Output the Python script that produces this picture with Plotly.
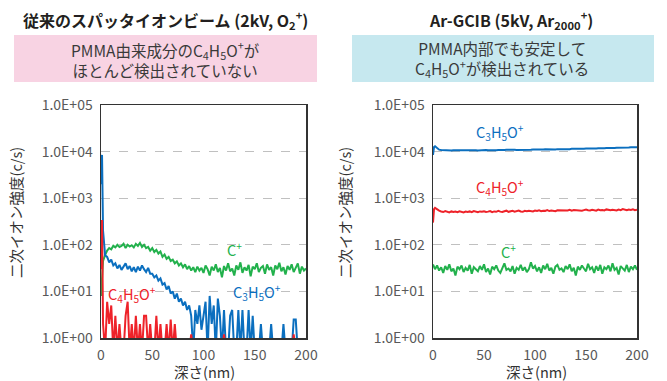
import plotly.graph_objects as go

# ---------------- data ----------------
depth = [0, 1] + list(range(2, 201, 2))  # nm

# Left panel: conventional sputter ion beam (2kV, O2+)
left_c = [8, 22,
          45, 60, 75, 85, 80, 95, 88, 100, 90, 95, 105, 85, 100, 92, 98, 88, 105, 95, 110, 90,
          100, 85, 90, 75, 85, 70, 78, 65, 72, 55, 62, 50, 55, 45, 48, 40, 44, 36, 40, 33,
          38, 30, 35, 28, 33, 26, 34, 28, 32, 25,
          36, 30, 22, 34, 28, 38, 26, 32, 20, 35, 28, 40, 27, 31, 22, 36, 29, 42, 25, 33,
          28, 37, 21, 34, 30, 40, 26, 32, 35, 24, 38, 29, 33, 22, 36, 30, 41, 27, 33, 23,
          35, 29, 38, 26, 32, 40, 24, 34, 28, 31]
left_c3h5o = [2000, 8500, 200,
              60, 55, 42, 48, 36, 40, 31, 37, 29, 34, 40, 30, 35, 27, 33, 26, 34, 28, 36, 30,
              26, 32, 24,
              24, 20, 22, 17, 19, 14, 15, 11, 13, 9, 10, 7, 9, 6, 7, 5, 6, 4, 5, 3,
              0.5, 4, 2, 5, 1.5, 3,
              6, 0.5, 8, 2, 5, 0.5, 7, 3, 0.5, 4, 0.5, 0.5, 3, 4, 0.5, 0.5, 4, 0.5, 4, 0.5,
              0.5, 4, 0.5, 3, 0.5, 0.5, 0.5, 2, 0.5, 0.5, 0.5, 0.5, 2, 0.5, 0.5, 0.5, 0.5,
              0.5, 2, 0.5, 0.5, 0.5, 0.5, 2.5, 2.5, 0.5, 0.5, 0.5, 0.5, 0.5]
left_c4h5o = [30, 340, 2,
              0.5, 6, 2, 5, 0.5, 3, 0.5, 2, 0.5, 0.5, 3, 6, 0.5, 2, 0.5, 3, 0.5, 2, 0.5, 3,
              3, 0.5, 2, 0.5, 0.5, 3, 0.5, 2, 0.5, 0.5, 2, 0.5, 2.5, 0.5, 2, 0.5,
              0.5, 0.5, 0.5, 0.5, 0.5, 0.5, 1.2, 0.5, 0.5, 0.5, 0.5, 0.5, 0.5, 0.5, 0.5, 0.5,
              0.5, 0.5, 0.5, 0.5, 0.5, 0.5, 1.2, 0.5, 0.5, 0.5, 0.5, 0.5, 0.5, 0.5, 0.5, 0.5,
              0.5, 0.5, 0.5, 0.5, 0.5, 0.5, 0.5, 0.5, 0.5, 0.5, 0.5, 0.5, 0.5, 0.5, 0.5, 0.5,
              0.5, 0.5, 0.5, 0.5, 0.5, 0.5, 0.5, 0.5, 1.2, 0.5, 0.5, 0.5, 0.5, 0.5, 0.5]

# Right panel: Ar-GCIB (5kV, Ar2000+)
right_c3h5o = [8500, 12500, 13000, 11800, 11000,
               10800, 10700, 10600, 10700, 10650, 10600, 10700, 10750, 10650, 10600, 10700,
               10650, 10600, 10700, 10650, 10750, 10700, 10650, 10600, 10700, 10750, 10700,
               10800, 10700, 10650, 10750, 10800, 10700, 10850, 10750, 10700, 10800, 10900,
               10800, 10750, 10850, 10900, 10850, 10800, 10950, 10900, 10850, 11000, 10950,
               10900, 11050, 11000,
               11100, 11000, 11150, 11050, 11200, 11100, 11150, 11250, 11200, 11100, 11300,
               11250, 11200, 11350, 11300, 11400, 11300, 11450, 11400, 11350, 11500, 11450,
               11550, 11500, 11600,
               11550, 11700, 11650, 11800, 11700, 11850, 11750, 11900, 11850, 12000, 11900,
               12050, 12100, 11950, 12150, 12100, 12200, 12150, 12300, 12250, 12200, 12350,
               12300, 12400, 12350]
right_c4h5o = [300, 580, 620, 570, 540,
               520, 505, 530, 510, 495, 520, 505, 515, 500, 525, 510, 495, 515, 505, 520, 500,
               530, 510, 500, 520, 510, 525,
               505, 515, 530, 500, 520, 510, 535, 515, 505, 525, 540, 510, 520, 535, 515, 530,
               545, 520, 510, 535, 525, 540, 530, 520, 545,
               530, 550, 525, 540, 535, 555, 530, 545, 540, 525, 550, 545, 560, 535, 550, 545,
               565, 540, 555, 550, 545, 560, 540, 555, 570,
               550, 545, 565, 555, 540, 570, 550, 560, 545, 575, 555, 550, 565, 560, 545, 570,
               555, 585, 560, 550, 570, 560, 575, 555, 565]
right_c = [38, 34, 30, 36, 28,
           33, 25, 35, 29, 38, 27, 31, 22, 34, 30, 36, 26, 32, 28, 37, 24, 33, 30, 27, 35,
           29, 38, 26, 31, 23, 34, 30, 36, 28, 25, 33, 40, 29, 31, 27, 35, 24, 32, 29, 37,
           28, 33, 26, 30, 42, 31, 35, 27, 33, 25, 36, 30, 39, 28, 32, 24, 34, 37, 29, 31,
           26, 35, 30, 38, 27, 32, 22, 34, 29, 36, 31, 27, 39, 30, 33, 25, 35, 28, 37, 24,
           33, 30, 36, 27, 40, 29, 32, 23, 35, 31, 28, 37, 26, 34, 30, 36, 29]

y_tickvals = [1, 10, 100, 1000, 10000, 100000]
y_ticktext = ["1.0E+00", "1.0E+01", "1.0E+02", "1.0E+03", "1.0E+04", "1.0E+05"]
x_tickvals = [0, 50, 100, 150, 200]

GREEN = "#22b14c"
BLUE = "#0b6fbf"
RED = "#ee2229"
FONT = "Noto Sans CJK JP"
W, H = 667, 381

def px(x):
    return x / W

def py(y):
    return 1 - y / H

fig = go.Figure()
for xs, ys, col, xa, ya in [
    (depth, left_c, GREEN, "x", "y"),
    (depth, left_c3h5o, BLUE, "x", "y"),
    (depth, left_c4h5o, RED, "x", "y"),
    (depth, right_c, GREEN, "x2", "y2"),
    (depth, right_c4h5o, RED, "x2", "y2"),
    (depth, right_c3h5o, BLUE, "x2", "y2"),
]:
    fig.add_trace(go.Scatter(x=xs, y=ys, mode="lines", line=dict(color=col, width=2),
                             xaxis=xa, yaxis=ya, showlegend=False, hoverinfo="skip"))

axis_common_y = dict(type="log", range=[0, 5], tickvals=y_tickvals, ticktext=y_ticktext,
                     showline=True, mirror=True, linecolor="#333333", linewidth=1.5,
                     showgrid=True, gridcolor="#c0c0c0", griddash="dash", gridwidth=1,
                     ticks="", zeroline=False, automargin=False, ticklabelstandoff=4,
                     tickfont=dict(family=FONT, size=14, color="#595959"))
axis_common_x = dict(range=[0, 200], tickvals=x_tickvals, showline=True, mirror=True,
                     linecolor="#333333", linewidth=1.5, showgrid=False, ticks="",
                     zeroline=False, automargin=False, ticklabelstandoff=4,
                     tickfont=dict(family=FONT, size=14, color="#595959"))

fig.update_layout(
    width=W, height=H, margin=dict(l=0, r=0, t=0, b=0, autoexpand=False),
    paper_bgcolor="white", plot_bgcolor="white",
    xaxis=dict(domain=[px(101), px(306)], anchor="y", **axis_common_x),
    yaxis=dict(domain=[py(338), py(105)], anchor="x", **axis_common_y),
    xaxis2=dict(domain=[px(433), px(637)], anchor="y2", **axis_common_x),
    yaxis2=dict(domain=[py(338), py(105)], anchor="x2", **axis_common_y),
    font=dict(family=FONT, color="#333333"),
)

shapes = [
    dict(type="rect", xref="paper", yref="paper", x0=px(14), x1=px(317), y0=py(82), y1=py(35),
         fillcolor="#f8d3e3", line=dict(width=0), layer="below"),
    dict(type="rect", xref="paper", yref="paper", x0=px(352), x1=px(654), y0=py(82), y1=py(35),
         fillcolor="#c6e8ef", line=dict(width=0), layer="below"),
]
fig.update_layout(shapes=shapes)

ann = []
def add_paper(text, x, y, size, color="#333333", angle=0, bold=False):
    ann.append(dict(text=text, x=px(x), y=py(y), xref="paper", yref="paper",
                    showarrow=False, xanchor="center", yanchor="middle", textangle=angle,
                    font=dict(family=FONT, size=size, color=color,
                              weight="bold" if bold else "normal")))

add_paper("従来のスパッタイオンビーム (2kV, O<sub>2</sub><sup>+</sup>)", 165, 20, 16, "#231f20", bold=True)
add_paper("Ar-GCIB (5kV, Ar<sub>2000</sub><sup>+</sup>)", 511, 20, 16, "#231f20", bold=True)
add_paper("PMMA由来成分のC<sub>4</sub>H<sub>5</sub>O<sup>+</sup>が<br>ほとんど検出されていない", 165, 59, 15.5, "#3a3a3a")
add_paper("PMMA内部でも安定して<br>C<sub>4</sub>H<sub>5</sub>O<sup>+</sup>が検出されている", 502, 59, 15.5, "#3a3a3a")
add_paper("二次イオン強度(c/s)", 15, 213, 14.5, "#333333", angle=-90)
add_paper("二次イオン強度(c/s)", 344, 213, 14.5, "#333333", angle=-90)
add_paper("深さ(nm)", 204, 371, 14.5, "#333333")
add_paper("深さ(nm)", 536, 371, 14.5, "#333333")

def add_data(text, x, logy, color, xa, ya):
    ann.append(dict(text=text, x=x, y=logy, xref=xa, yref=ya, showarrow=False,
                    xanchor="center", yanchor="middle",
                    font=dict(family=FONT, size=14.5, color=color)))

add_data("C<sup>+</sup>", 130, 1.91, GREEN, "x", "y")
add_data("C<sub>3</sub>H<sub>5</sub>O<sup>+</sup>", 152, 0.99, BLUE, "x", "y")
add_data("C<sub>4</sub>H<sub>5</sub>O<sup>+</sup>", 30, 0.94, RED, "x", "y")
add_data("C<sub>3</sub>H<sub>5</sub>O<sup>+</sup>", 66, 4.42, BLUE, "x2", "y2")
add_data("C<sub>4</sub>H<sub>5</sub>O<sup>+</sup>", 66, 3.24, RED, "x2", "y2")
add_data("C<sup>+</sup>", 74, 1.87, GREEN, "x2", "y2")

fig.update_layout(annotations=ann)
fig.write_html("out.html", config={"displayModeBar": False, "staticPlot": True},
               post_script="document.body.style.margin='0';document.body.style.overflow='hidden';")
